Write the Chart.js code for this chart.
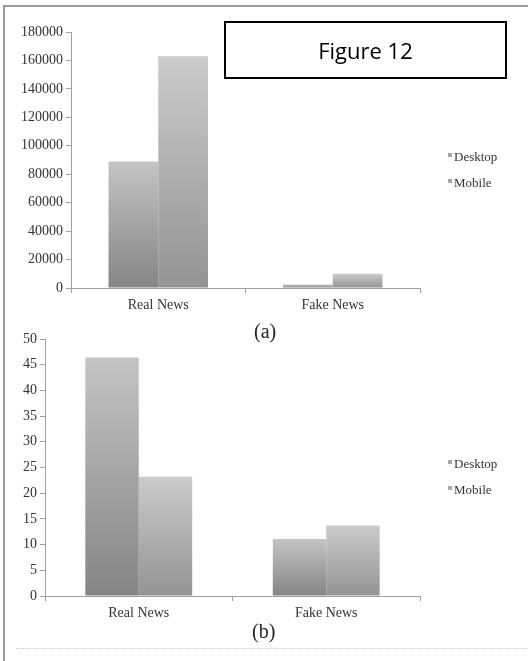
<!DOCTYPE html>
<html lang="en">
<head>
    <meta charset="UTF-8">
    <title>Figure 12</title>
    <script src="https://cdn.jsdelivr.net/npm/chart.js"></script>
    <style>
        body { margin: 0; background: #fff; width: 528px; height: 661px; overflow: hidden; position: relative; }
        .frame { position: absolute; left: 3px; top: 5px; width: 530px; height: 700px; border-left: 2px solid #9a9a9a; border-top: 2px solid #9a9a9a; }
        .figbox { position: absolute; left: 224px; top: 21px; width: 279px; height: 54px; border: 2px solid #000;
                  font-family: "Open Sans", sans-serif; font-size: 22px; line-height: 54px; text-align: center; color: #000; }
        .cap { position: absolute; font-family: "Liberation Serif", serif; font-size: 20px; color: #222; }
        .dots { position: absolute; left: 16px; top: 648px; width: 512px; border-top: 1px dotted #ccc; }
        .wrap { position: absolute; left: 0; width: 528px; }
    </style>
</head>
<body>
    <div class="frame"></div>
    <div class="wrap" style="top:0;height:322px"><canvas id="chartA"></canvas></div>
    <div class="wrap" style="top:320px;height:310px"><canvas id="chartB"></canvas></div>
    <div class="figbox">Figure 12</div>
    <div class="cap" style="left:254px;top:320px">(a)</div>
    <div class="cap" style="left:252px;top:620px">(b)</div>
    <div class="dots"></div>

    <script>
        // data
        const categories = ['Real News', 'Fake News'];
        const seriesNames = ['Desktop', 'Mobile'];
        const visitsDesktop = [89000, 2500];
        const visitsMobile = [163000, 10000];
        const shareDesktop = [46.4, 11.1];
        const shareMobile = [23.2, 13.7];

        const serif = '"Liberation Serif", "Times New Roman", serif';

        // greys for each series: bottom and top of the bar gradient
        const shades = [
            ['#858585', '#c4c4c4'],
            ['#939393', '#cbcbcb']
        ];

        function barFill(ctx) {
            const chart = ctx.chart;
            const pair = shades[ctx.datasetIndex];
            const y = chart.scales && chart.scales.y;
            if (!chart.chartArea || !y || ctx.raw === undefined) return pair[1];
            const top = y.getPixelForValue(ctx.raw);
            const bottom = y.getPixelForValue(0);
            const g = chart.ctx.createLinearGradient(0, bottom, 0, top);
            g.addColorStop(0, pair[0]);
            g.addColorStop(1, pair[1]);
            return g;
        }

        // small square legend on the right, as in the figure
        const sideLegend = {
            id: 'sideLegend',
            afterDraw(chart) {
                const c = chart.ctx;
                const area = chart.chartArea;
                c.save();
                c.font = '13px ' + serif;
                c.textBaseline = 'middle';
                chart.data.datasets.forEach((ds, i) => {
                    const y = area.top + 126 + i * 26;
                    c.fillStyle = '#a8a8a8';
                    c.fillRect(448, y - 5, 4, 4);
                    c.fillStyle = '#333';
                    c.fillText(ds.label, 454, y);
                });
                c.restore();
            }
        };

        function makeChart(id, d1, d2, max, step, yWidth, top, xHeight) {
            return new Chart(document.getElementById(id), {
                type: 'bar',
                data: {
                    labels: categories,
                    datasets: [
                        { label: seriesNames[0], data: d1, backgroundColor: barFill, borderWidth: 0 },
                        { label: seriesNames[1], data: d2, backgroundColor: barFill, borderWidth: 0 }
                    ]
                },
                options: {
                    responsive: true,
                    maintainAspectRatio: false,
                    animation: false,
                    categoryPercentage: 0.57,
                    barPercentage: 1,
                    layout: { padding: { top: top, right: 108, left: 0, bottom: 0 } },
                    plugins: { legend: { display: false }, tooltip: { enabled: false } },
                    scales: {
                        x: {
                            afterFit: s => { s.height = xHeight; },
                            border: { color: '#a0a0a0', width: 1 },
                            grid: { drawOnChartArea: false, tickLength: 5, color: '#a0a0a0' },
                            ticks: { color: '#333', font: { family: serif, size: 14 }, padding: 4 }
                        },
                        y: {
                            min: 0,
                            max: max,
                            afterFit: s => { s.width = yWidth; },
                            border: { color: '#a0a0a0', width: 1 },
                            grid: { drawOnChartArea: false, tickLength: 5, color: '#a0a0a0' },
                            ticks: { stepSize: step, color: '#333', font: { family: serif, size: 14 }, padding: 3,
                                     callback: v => String(v) }
                        }
                    }
                },
                plugins: [sideLegend]
            });
        }

        makeChart('chartA', visitsDesktop, visitsMobile, 180000, 20000, 71, 32, 34);
        makeChart('chartB', shareDesktop, shareMobile, 50, 5, 45, 19, 34);
    </script>
</body>
</html>
